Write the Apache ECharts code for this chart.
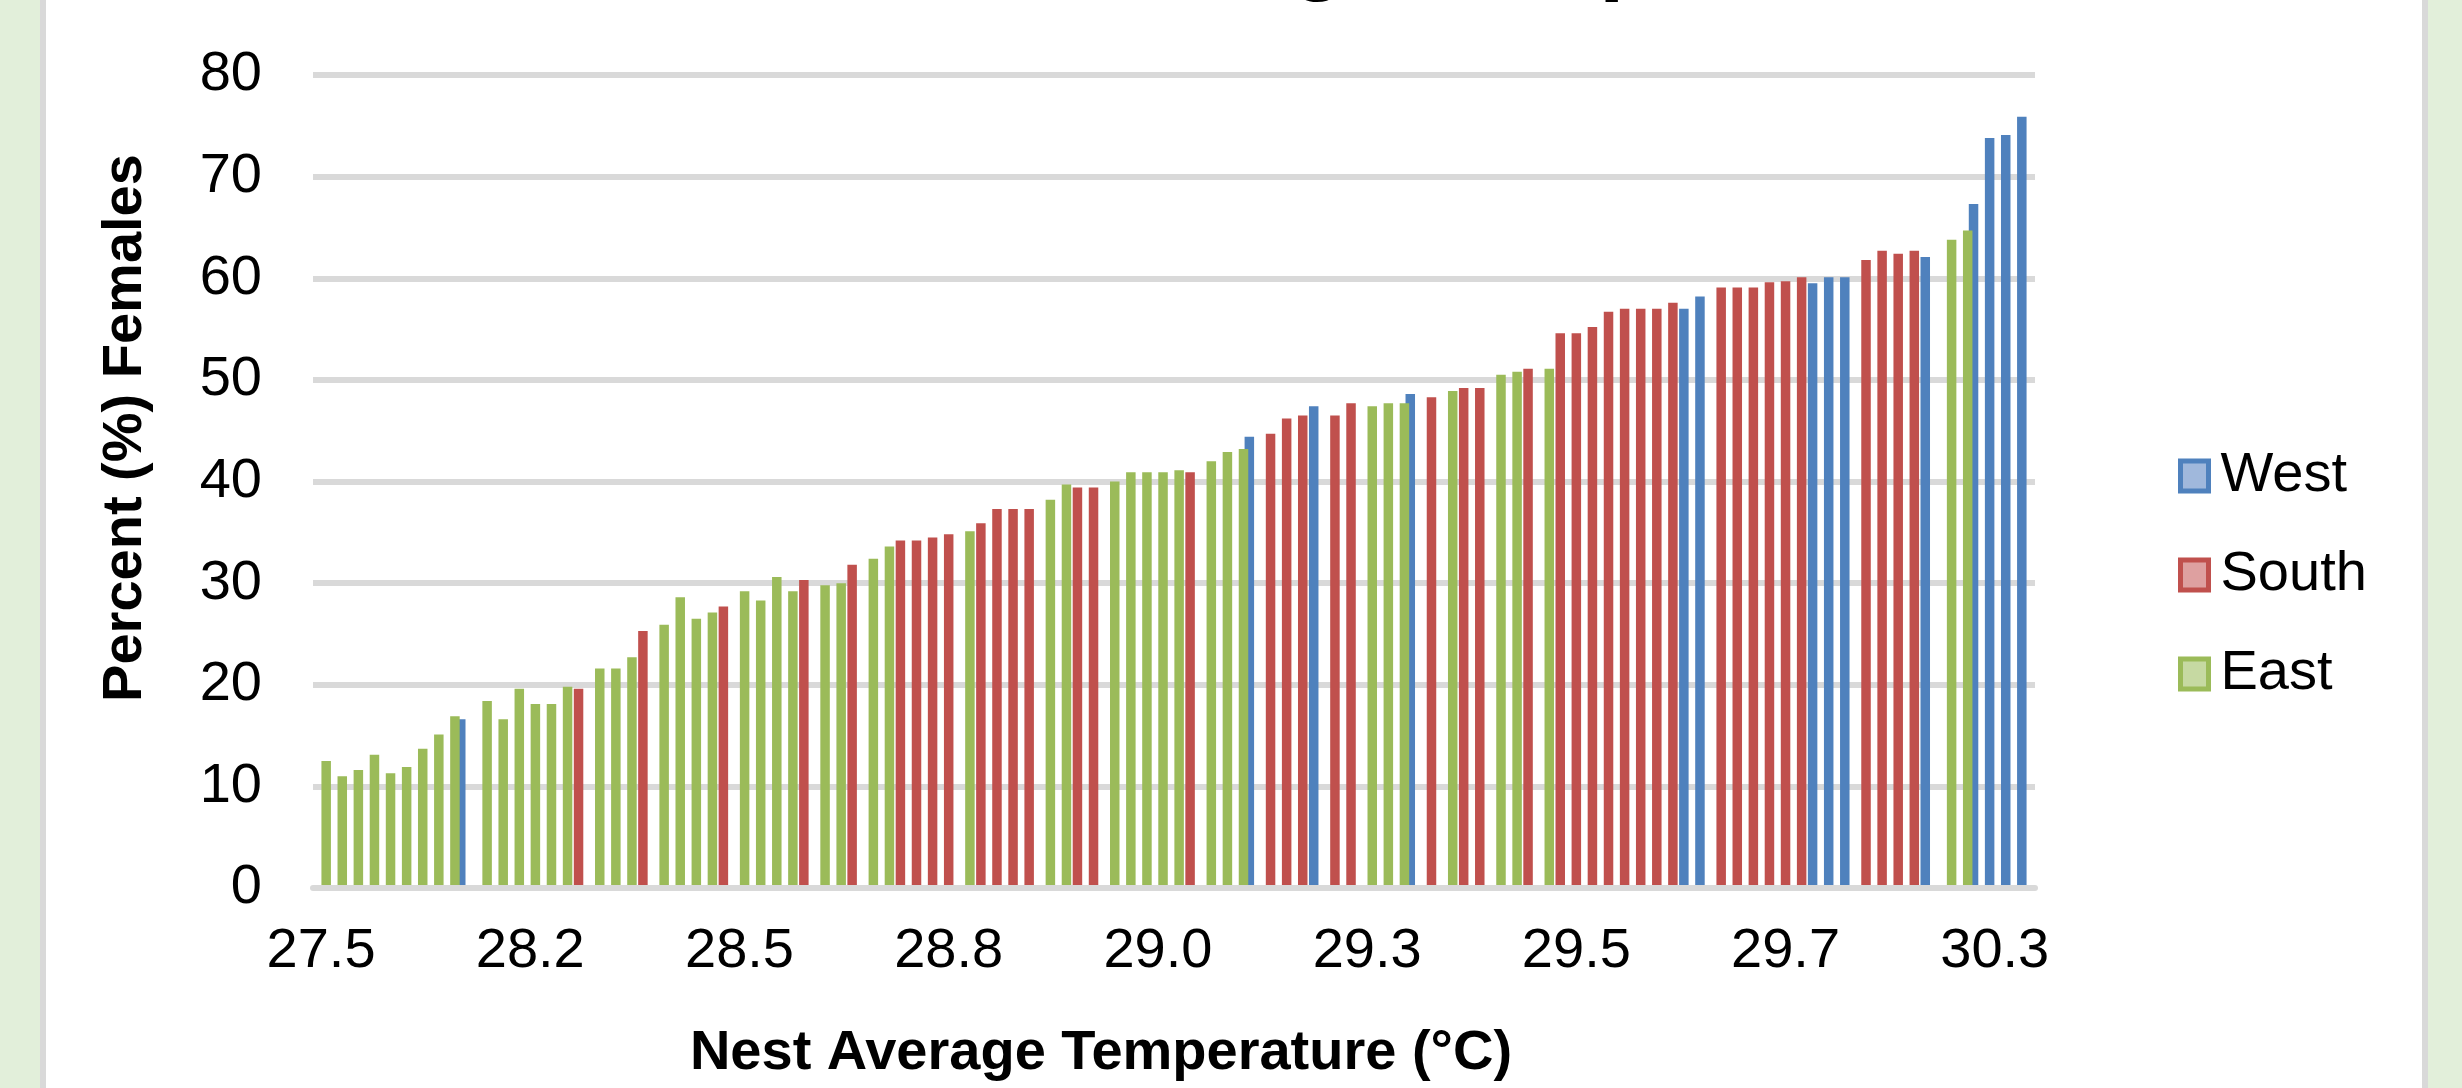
<!DOCTYPE html>
<html>
<head>
<meta charset="utf-8">
<title>Percent Females vs Nest Average Temperature</title>
<script src="https://cdn.jsdelivr.net/npm/echarts@6/dist/echarts.min.js"></script>
<style>
    html, body {margin: 0; padding: 0; overflow: hidden; background: #e2efda;}
    #panel {position: absolute; left: 40px; top: -20px; width: 2376px; height: 1128px;
        background: #fff; border: 6px solid #d9d9d9;}
    #chart {position: absolute; left: 0; top: 0; width: 2462px; height: 1088px;}
</style>
</head>
<body>
<div id="panel"></div>
<div id="chart"></div>
<script>
// percent females per nest, sorted by nest average temperature
const percentFemales = [
    12.5, 11.0, 11.6, 13.1, 11.3, 11.9, 13.7, 15.1, 16.9, 16.6,
    18.4, 16.6, 19.6, 18.1, 18.1, 19.8, 19.6, 21.6, 21.6, 22.7,
    25.3, 25.9, 28.6, 26.5, 27.1, 27.7, 29.2, 28.3, 30.6, 29.2,
    30.3, 29.8, 30.0, 31.8, 32.4, 33.6, 34.2, 34.2, 34.5, 34.8,
    35.1, 35.9, 37.3, 37.3, 37.3, 38.2, 39.7, 39.4, 39.4, 40.0,
    40.9, 40.9, 40.9, 41.1, 40.9, 42.0, 42.9, 43.2, 44.4, 44.7,
    46.2, 46.5, 47.4, 46.5, 47.7, 47.4, 47.7, 47.7, 48.6, 48.3,
    48.9, 49.2, 49.2, 50.5, 50.8, 51.1, 51.1, 54.6, 54.6, 55.2,
    56.7, 57.0, 57.0, 57.0, 57.6, 57.0, 58.2, 59.1, 59.1, 59.1,
    59.6, 59.7, 60.1, 59.5, 60.1, 60.1, 61.8, 62.7, 62.4, 62.7,
    62.1, 63.8, 64.7, 67.3, 73.8, 74.1, 75.9
];

// beach region of each nest: W = West, S = South, E = East
const nestRegion = [
    'E', 'E', 'E', 'E', 'E', 'E', 'E', 'E', 'E', 'W',
    'E', 'E', 'E', 'E', 'E', 'E', 'S', 'E', 'E', 'E',
    'S', 'E', 'E', 'E', 'E', 'S', 'E', 'E', 'E', 'E',
    'S', 'E', 'E', 'S', 'E', 'E', 'S', 'S', 'S', 'S',
    'E', 'S', 'S', 'S', 'S', 'E', 'E', 'S', 'S', 'E',
    'E', 'E', 'E', 'E', 'S', 'E', 'E', 'E', 'W', 'S',
    'S', 'S', 'W', 'S', 'S', 'E', 'E', 'E', 'W', 'S',
    'E', 'S', 'S', 'E', 'E', 'S', 'E', 'S', 'S', 'S',
    'S', 'S', 'S', 'S', 'S', 'W', 'W', 'S', 'S', 'S',
    'S', 'S', 'S', 'W', 'W', 'W', 'S', 'S', 'S', 'S',
    'W', 'E', 'E', 'W', 'W', 'W', 'W'
];

// temperature labels shown every 13th nest
const tempTicks = ['27.5', '28.2', '28.5', '28.8', '29.0', '29.3', '29.5', '29.7', '30.3'];
const tickStep = 13;

const regions = [
    {code: 'W', name: 'West', color: '#4f81bd', light: '#a0b8dc'},
    {code: 'S', name: 'South', color: '#c0504d', light: '#dea0a0'},
    {code: 'E', name: 'East', color: '#9bbb59', light: '#c6d9a2'}
];

const nestIds = percentFemales.map((v, i) => String(i + 1));

const font = "'Liberation Sans', Arial, sans-serif";

const series = regions.map(r => ({
    name: r.name,
    type: 'bar',
    barWidth: 9.5,
    barGap: '-46%',
    itemStyle: {color: r.color},
    data: percentFemales.map((v, i) => nestRegion[i] === r.code ? v : null)
}));

const myChart = echarts.init(document.getElementById('chart'), null, {renderer: 'canvas'});

const option = {
    animation: false,
    backgroundColor: 'transparent',
    textStyle: {fontFamily: font},
    grid: {left: 313, right: 427, top: 75, bottom: 200},
    legend: {
        orient: 'vertical',
        left: 2178,
        top: 448,
        padding: 0,
        icon: 'rect',
        itemWidth: 28,
        itemHeight: 30,
        itemGap: 43,
        selectedMode: false,
        textStyle: {fontSize: 56, color: '#000', fontFamily: font, padding: [0, 0, 0, 7]},
        data: regions.map(r => ({
            name: r.name,
            itemStyle: {color: r.light, borderColor: r.color, borderWidth: 5}
        }))
    },
    xAxis: {
        type: 'category',
        data: nestIds,
        boundaryGap: true,
        z: 5,
        axisLine: {lineStyle: {color: '#d9d9d9', width: 6}},
        axisTick: {show: false},
        axisLabel: {
            interval: tickStep - 1,
            margin: 36,
            fontSize: 56,
            color: '#000',
            fontFamily: font,
            formatter: (value, index) => tempTicks[Math.round(index / tickStep)] || ''
        }
    },
    yAxis: {
        type: 'value',
        min: 0,
        max: 80,
        interval: 10,
        axisLine: {show: false},
        axisTick: {show: false},
        splitLine: {lineStyle: {color: '#d9d9d9', width: 6}},
        axisLabel: {margin: 51, fontSize: 56, color: '#000', fontFamily: font}
    },
    graphic: [
        {
            // chart title, cut off by the top edge: only its descenders show
            type: 'text',
            left: 824,
            top: -87,
            style: {text: 'Nest Average Temperature', font: 'bold 90px ' + font, fill: '#000'}
        },
        {
            type: 'text',
            x: 126,
            y: 428,
            rotation: Math.PI / 2,
            style: {
                text: 'Percent (%) Females', font: 'bold 56px ' + font, fill: '#000',
                textAlign: 'center', textVerticalAlign: 'middle'
            }
        },
        {
            type: 'text',
            x: 1101,
            y: 1054,
            style: {
                text: 'Nest Average Temperature (°C)', font: 'bold 56px ' + font, fill: '#000',
                textAlign: 'center', textVerticalAlign: 'middle'
            }
        }
    ],
    series: series
};

myChart.setOption(option);
</script>
</body>
</html>
